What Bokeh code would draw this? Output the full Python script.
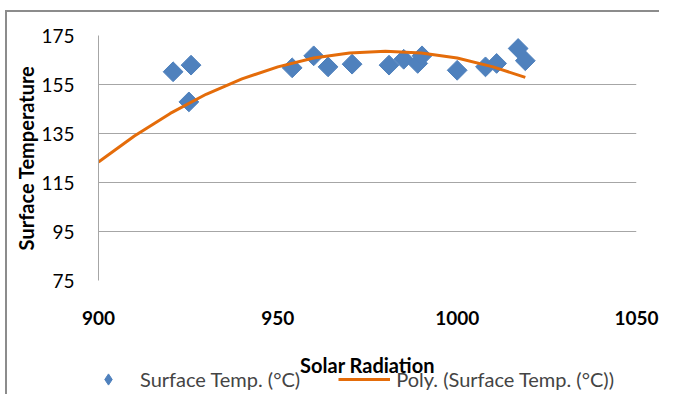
import math
from bokeh.plotting import figure
from bokeh.layouts import column
from bokeh.models import Range1d, FixedTicker, Legend, LegendItem, ColumnDataSource, Label
from bokeh.embed import file_html
from bokeh.resources import INLINE

# Data
solar_radiation = [920.8, 925.8, 925.2, 954.0, 960.0, 964.0, 970.7, 981.0,
                   985.1, 989.0, 990.2, 1000.0, 1007.9, 1011.0, 1017.0, 1019.0]
surface_temp = [160.2, 162.9, 147.9, 161.8, 166.7, 162.2, 163.3, 162.9,
                165.3, 163.6, 166.7, 160.8, 162.2, 163.6, 169.7, 164.7]

# Polynomial trend line
trend_x = [900, 910, 920, 930, 940, 950, 960, 970, 980, 990, 1000, 1010, 1019]
trend_y = [123.4, 134.0, 143.2, 151.0, 157.3, 162.2, 165.8, 167.9, 168.6,
           167.9, 165.8, 162.2, 157.9]

x_ticks = [900, 950, 1000, 1050]
y_ticks = [75, 95, 115, 135, 155, 175]

FONT = "Lato"
BLUE = "#4F81BD"
ORANGE = "#E46C0A"

p = figure(width=659, height=328, output_backend="svg", toolbar_location=None,
           x_range=Range1d(x_ticks[0], x_ticks[-1]), y_range=Range1d(y_ticks[0], y_ticks[-1]),
           min_border_left=98, min_border_right=23, min_border_top=35,
           min_border_bottom=48)
p.outline_line_color = None
p.background_fill_color = None
p.border_fill_color = None

src = ColumnDataSource(dict(x=solar_radiation, y=surface_temp))
p.scatter("x", "y", source=src, marker="square", size=14, angle=math.pi / 4,
          fill_color=BLUE, line_color=BLUE)
p.line(trend_x, trend_y, line_color=ORANGE, line_width=3)

# axes
p.xaxis.ticker = FixedTicker(ticks=x_ticks)
p.yaxis.ticker = FixedTicker(ticks=y_ticks)
for ax in (p.xaxis[0], p.yaxis[0]):
    ax.major_tick_line_color = None
    ax.minor_tick_line_color = None
    ax.major_label_text_font = FONT
    ax.major_label_text_font_size = "19px"
    ax.major_label_text_color = "black"
    ax.axis_label_text_font = FONT
    ax.axis_label_text_font_size = "20px"
    ax.axis_label_text_font_style = "bold"
    ax.axis_label_text_color = "black"
p.xaxis.axis_line_color = None
p.xaxis.major_label_text_font_style = "bold"
p.xaxis.major_label_standoff = 24
p.yaxis.axis_line_color = "#a6a6a6"
p.yaxis.major_label_standoff = 18
p.yaxis.axis_label = "Surface Temperature"
p.yaxis.axis_label_standoff = 0

p.xgrid.grid_line_color = None
p.ygrid.ticker = FixedTicker(ticks=y_ticks)
p.ygrid.grid_line_color = "#a6a6a6"
p.ygrid.grid_line_width = 1

# strip below the chart: x-axis title and legend (same x scale as the chart)
LG_H = 66
lg = figure(width=659, height=LG_H, output_backend="svg", toolbar_location=None,
            x_range=Range1d(x_ticks[0], x_ticks[-1]), y_range=Range1d(0, LG_H),
            x_axis_location=None, y_axis_location=None,
            min_border=0, min_border_left=0, min_border_right=0,
            min_border_top=0, min_border_bottom=0)
lg.outline_line_color = None
lg.background_fill_color = None
lg.border_fill_color = None
lg.xgrid.visible = False
lg.ygrid.visible = False
# proxies carrying the series' styles for the legend (their values lie outside this strip's range)
lg_pts = lg.scatter(solar_radiation, surface_temp, marker="diamond", size=14,
                    fill_color=BLUE, line_color=BLUE)
lg_line = lg.line(trend_x, trend_y, line_color=ORANGE, line_width=3)

lg.add_layout(Label(x=(x_ticks[0] + x_ticks[-1]) / 2, y=30, text="Solar Radiation",
                    text_align="center", text_baseline="middle",
                    text_font=FONT, text_font_size="20px", text_font_style="bold",
                    text_color="black"))

legend = Legend(items=[LegendItem(label="Surface Temp. (°C)", renderers=[lg_pts]),
                       LegendItem(label="Poly. (Surface Temp. (°C))", renderers=[lg_line])],
                orientation="horizontal", location=(-16, 1), margin=0, padding=0,
                glyph_width=52, glyph_height=28, label_standoff=6, spacing=38,
                label_text_font=FONT, label_text_font_size="20px",
                background_fill_alpha=0, border_line_color=None)
lg.add_layout(legend, "center")

layout = column(p, lg, spacing=0)
# outer chart border (left and top edges, the rest lies outside the window)
layout.styles = {"box-shadow": "inset 5px 10px 0 0 white, inset 7px 12px 0 0 #8c8c8c"}
open("out.html", "w").write(file_html(layout, INLINE))
